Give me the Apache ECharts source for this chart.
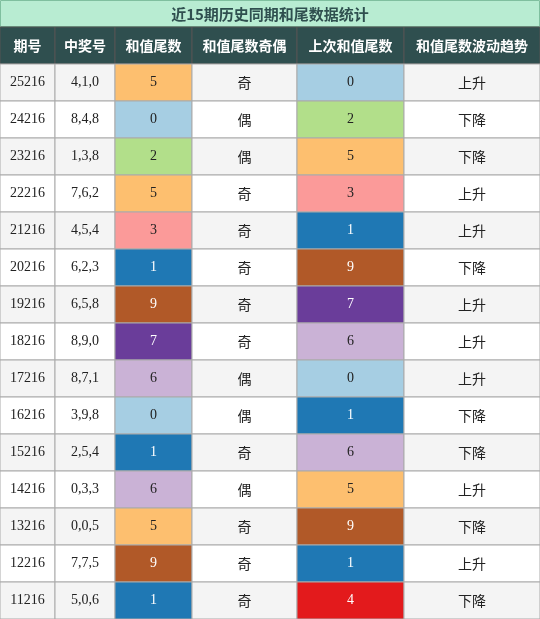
<!DOCTYPE html><html><head><meta charset="utf-8"><script src="https://cdn.jsdelivr.net/npm/echarts@6/dist/echarts.min.js"></script>
<style>html,body{margin:0;padding:0;background:#fff}#c{width:540px;height:619px}</style></head><body><div id="c"></div><script>
const headers=['期号','中奖号','和值尾数','和值尾数奇偶','上次和值尾数','和值尾数波动趋势'];
const periods=['25216','24216','23216','22216','21216','20216','19216','18216','17216','16216','15216','14216','13216','12216','11216'];
const draws=['4,1,0','8,4,8','1,3,8','7,6,2','4,5,4','6,2,3','6,5,8','8,9,0','8,7,1','3,9,8','2,5,4','0,3,3','0,0,5','7,7,5','5,0,6'];
const tails=[5,0,2,5,3,1,9,7,6,0,1,6,5,9,1];
const parity=['奇','偶','偶','奇','奇','奇','奇','奇','偶','偶','奇','偶','奇','奇','奇'];
const prevTails=[0,2,5,3,1,9,7,6,0,1,6,5,9,1,4];
const trends=['上升','下降','下降','上升','上升','下降','上升','上升','上升','下降','下降','上升','下降','上升','下降'];
const colEdges=[0,55,115,192,297,404,540];
const digitColors={0:'#a6cee3',1:'#1f78b4',2:'#b2df8a',3:'#fb9a99',4:'#e31a1c',5:'#fdbf6f',6:'#cab2d6',7:'#6a3d9a',9:'#b15928'};
const darkDigits=[1,4,7,9];
const cells=[];
headers.forEach((h,c)=>cells.push([c,0,h,'h']));
periods.forEach((p,r)=>{
  const row=[p,draws[r],tails[r],parity[r],prevTails[r],trends[r]];
  row.forEach((v,c)=>cells.push([c,r+1,String(v),(c===2||c===4)?'d':'t']));
});
const chart=echarts.init(document.getElementById('c'));
chart.setOption({
  animation:false,
  graphic:[{type:'rect',shape:{x:0.5,y:0.5,width:539,height:26},style:{fill:'#b8ecd2',stroke:'#7fbf9f'}},
    {type:'text',style:{text:'近15期历史同期和尾数据统计',x:270,y:14,align:'center',verticalAlign:'middle',fill:'#2f4f4f',font:'bold 15px "Noto Sans CJK SC"'}}],
  grid:{left:0,right:0,top:27,bottom:0},
  xAxis:{type:'value',min:0,max:540,show:false},
  yAxis:{type:'value',min:0,max:16,inverse:true,show:false},
  series:[{type:'custom',data:cells,renderItem:(params,api)=>{
    const c=api.value(0),r=api.value(1);const d=cells[params.dataIndex];
    const p0=api.coord([colEdges[c],r]),p1=api.coord([colEdges[c+1],r+1]);
    const kind=d[3];let fill,color='#222',font;
    const isNum=/^[0-9,]+$/.test(d[2]);
    const fam=isNum?'"Liberation Serif"':'"Noto Sans CJK SC"';
    if(kind==='h'){fill='#2f4f4f';color='#fff';font='bold 14px "Noto Sans CJK SC"';}
    else{fill=(r%2===1)?'#f4f4f4':'#ffffff';font='14px '+fam;
      if(kind==='d'){const n=+d[2];fill=digitColors[n];if(darkDigits.includes(n))color='#fff';}}
    return {type:'group',children:[
      {type:'rect',shape:{x:p0[0],y:p0[1],width:p1[0]-p0[0],height:p1[1]-p0[1]},style:{fill,stroke:kind==='h'?'#555':'#aaa',lineWidth:1}},
      {type:'text',style:{text:d[2],x:(p0[0]+p1[0])/2,y:(p0[1]+p1[1])/2,align:'center',verticalAlign:'middle',fill:color,font}}]};
  }}]
});
</script></body></html>
